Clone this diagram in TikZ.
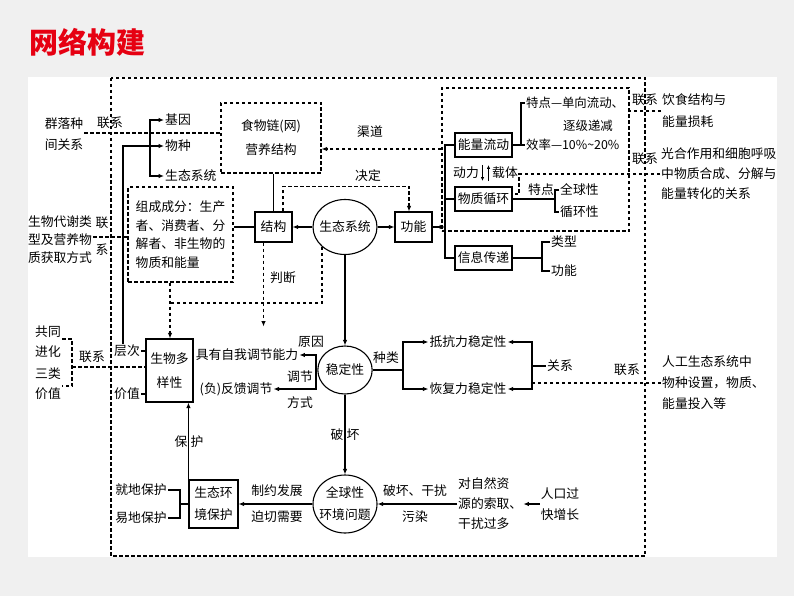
\documentclass[tikz,border=0pt]{standalone}
\usepackage{fontspec}
\setmainfont{Noto Sans CJK SC}
\usetikzlibrary{shapes.geometric,arrows.meta}
\definecolor{titlered}{RGB}{230,0,18}
\definecolor{bggray}{RGB}{240,240,240}

\begin{document}
\begin{tikzpicture}[x=1pt,y=-1pt,
  every node/.style={font=\fontsize{12.8}{19}\selectfont, inner sep=1pt, align=left},
  box/.style={draw, line width=1.1pt, inner sep=2pt, align=center},
  dbox/.style={draw, line width=1.1pt, dash pattern=on 3.5pt off 2.5pt},
  oval/.style={draw, ellipse, line width=1.1pt, inner sep=0pt, align=center},
  link/.style={line width=1.1pt},
  dlink/.style={line width=1.1pt, dash pattern=on 3.5pt off 2.5pt},
  arr/.style={-{Latex[length=5.5pt,width=4.5pt]}}]

  % Background and panel
  \fill[bggray] (0,0) rectangle (794,596);
  \fill[white] (28,77) rectangle (777,557);
  \useasboundingbox (0,0) rectangle (794,596);

  % Title
  \node[font=\fontsize{29}{29}\selectfont\bfseries, text=titlered] (title) at (87,42) {网络构建};

  % Outer frame
  \draw[dlink] (111,78) rectangle (645,556);

  % Ecosystem, structure and function
  \node[oval, inner xsep=-3pt, minimum width=64pt, minimum height=55pt] (sys) at (345,227) {生态系统};
  \node[box, minimum width=37pt, minimum height=30pt] (struct) at (273.5,227) {结构};
  \node[box, minimum width=37pt, minimum height=30pt] (func) at (413.5,227) {功能};
  \node[dbox, minimum width=100pt, minimum height=70pt, align=center, font=\fontsize{12.8}{24}\selectfont] (chain) at (271,138) {食物链(网)\\营养结构};
  \node[dbox, minimum width=105pt, minimum height=95pt, font=\fontsize{12.8}{18.7}\selectfont] (parts) at (180.5,234.5) {组成成分：生产\\者、消费者、分\\解者、非生物的\\物质和能量};
  \node (decide) at (368,176) {决定};
  \node (channel) at (370,132) {渠道};
  \node (judge) at (283,278) {判断};

  % Levels
  \node[anchor=west] (gene) at (164,120) {基因};
  \node[anchor=west] (species) at (164,146) {物种};
  \node[anchor=west] (eco) at (164,176) {生态系统};

  % Texts on the left
  \node[font=\fontsize{12.8}{21}\selectfont] (inter) at (64,134) {群落种\\间关系};
  \node (rel1) at (110,123) {联系};
  \node[font=\fontsize{12.8}{18}\selectfont] (metab) at (60,240) {生物代谢类\\型及营养物\\质获取方式};
  \node[align=center, font=\fontsize{12.8}{27}\selectfont] (rel2) at (102,236) {联\\系};

  % Energy, matter and information
  \node[dbox, minimum width=187pt, minimum height=143pt] (cycle) at (535.5,159.5) {};
  \node[box, minimum width=57pt, minimum height=24pt] (energy) at (483.5,145) {能量流动};
  \node[box, minimum width=57pt, minimum height=24pt] (matter) at (483.5,199) {物质循环};
  \node[box, minimum width=57pt, minimum height=24pt] (info) at (483.5,258) {信息传递};
  \node (power) at (466,173) {动力};
  \node (carrier) at (505,173) {载体};
  \node[anchor=west, font=\fontsize{12.4}{19}\selectfont] (feat1) at (525,103) {特点—单向流动、};
  \node[anchor=west, font=\fontsize{12.4}{19}\selectfont] (feat1b) at (562,126) {逐级递减};
  \node[anchor=west, font=\fontsize{12.4}{19}\selectfont] (eff) at (525,145) {效率—10\%\textasciitilde20\%};
  \node (feat2) at (541,190) {特点};
  \node[anchor=west] (globe) at (559,190) {全球性};
  \node[anchor=west] (circ) at (559,212) {循环性};
  \node[anchor=west] (kind) at (550,242) {类型};
  \node[anchor=west] (role) at (550,271) {功能};

  % Texts on the right
  \node[anchor=west, font=\fontsize{12.8}{22}\selectfont] (diet) at (661,111) {饮食结构与\\能量损耗};
  \node[anchor=west, font=\fontsize{12.8}{20}\selectfont] (photo) at (660,174) {光合作用和细胞呼吸\\中物质合成、分解与\\能量转化的关系};
  \node (rel5) at (645,100) {联系};
  \node (rel6) at (645,159) {联系};

  % Diversity and stability
  \node[oval, minimum width=54pt, minimum height=48pt] (stab) at (345,370) {稳定性};
  \node[box, minimum width=47pt, minimum height=63pt, font=\fontsize{12.8}{24}\selectfont] (div) at (169.5,370.5) {生物多\\样性};
  \node (level) at (127,351) {层次};
  \node (value) at (127,394) {价值};
  \node[font=\fontsize{12.8}{20}\selectfont] (coevo) at (48,342) {共同\\进化};
  \node[font=\fontsize{12.8}{20}\selectfont] (three) at (48,384) {三类\\价值};
  \node (rel3) at (92,357) {联系};
  \node (self) at (247,355) {具有自我调节能力};
  \node (fb) at (236,389) {(负)反馈调节};
  \node (cause) at (311,342) {原因};
  \node (reg) at (300,377) {调节};
  \node (mode) at (300,403) {方式};
  \node (resist) at (468,342) {抵抗力稳定性};
  \node (recov) at (468,389) {恢复力稳定性};
  \node (sort) at (386,358) {种类};
  \node (relat) at (560,366) {关系};
  \node (rel4) at (627,370) {联系};
  \node[anchor=west, font=\fontsize{12.8}{21}\selectfont] (artif) at (661,383) {人工生态系统中\\物种设置，物质、\\能量投入等};

  % Global problems and protection
  \node[oval, inner xsep=-3.5pt, minimum width=64pt, minimum height=58pt, font=\fontsize{12.8}{22}\selectfont] (world) at (345,504) {全球性\\环境问题};
  \node[box, minimum width=49pt, minimum height=48pt, font=\fontsize{12.8}{22}\selectfont] (prot) at (213.5,504) {生态环\\境保护};
  \node (insitu) at (141,490) {就地保护};
  \node (exsitu) at (141,518) {易地保护};
  \node (limit) at (277,491) {制约发展};
  \node (need) at (277,517) {迫切需要};
  \node (dmg) at (415,491) {破坏、干扰};
  \node (poll) at (415,517) {污染};
  \node[anchor=west, font=\fontsize{12.8}{20}\selectfont] (nat) at (457,504) {对自然资\\源的索取、\\干扰过多};
  \node[font=\fontsize{12.8}{21}\selectfont] (pop) at (560,504) {人口过\\快增长};
  \node (po) at (337,435) {破};
  \node (huai) at (353,435) {坏};
  \node (bao) at (181,442) {保};
  \node (hu) at (197,442) {护};

  % Forks
  \coordinate (fork) at (445,227);
  \coordinate (efork) at (521,145);
  \coordinate (mfork) at (555,199);
  \coordinate (lfork) at (150,146);
  \coordinate (sfork) at (316,370);
  \coordinate (kfork) at (403,370);
  \coordinate (rfork) at (532,366);
  \coordinate (pfork) at (180,504);

  % Ecosystem arrows
  \draw[link, arr] (sys.west) -- (struct.east);
  \draw[link, arr] (sys.east) -- (func.west);
  \draw[link] (struct.north) -- (struct.north |- chain.south);
  \draw[link] (struct.west) -- (struct.west -| parts.east);
  \draw[dlink, arr] ([xshift=9.5pt]struct.north) -- ++(0,-25) -| ([xshift=-4.5pt]func.north);
  \draw[dlink, arr] (cycle.west |- 0,149) -- (chain.east |- 0,149);

  % Function branches
  \draw[link, arr] (func.east) -- (fork);
  \draw[link] (energy.west) -- (energy.west -| fork) |- (info.west);
  \draw[link] (matter.west) -- (matter.west -| fork);
  \draw[line width=0.8pt, -{Latex[length=4pt,width=3.5pt]}] (482.5,165) -- (482.5,181);
  \draw[line width=0.8pt, -{Latex[length=4pt,width=3.5pt]}] (488.5,181) -- (488.5,165);
  \draw[link] (energy.east) -- (eff.west);
  \draw[link] (efork) |- (feat1.west);
  \draw[link] (matter.east) -- (mfork);
  \draw[link] (globe.west) -- ++(-4,0) |- (circ.west);
  \draw[link] (info.east) -- (info.east -| 542,0);
  \draw[link] (kind.west) -- ++(-8,0) |- (role.west);

  % Links on the right
  \draw[dlink] (diet.west) -- (diet.west -| cycle.east);
  \draw[dlink] (photo.west) -| (519,194) -- (matter.east |- 0,194);

  % Levels
  \draw[link, arr] ([xshift=-4pt]level.north) |- (species.west);
  \draw[link, arr] (lfork) |- (gene.west);
  \draw[link, arr] (lfork) |- (eco.west);
  \draw[dlink] (inter.east |- 0,133) -- (chain.west |- 0,133);
  \draw[dlink] (metab.east |- 0,237) -- (parts.west |- 0,237);

  % Diversity
  \draw[link] (level.east) -- (level.east -| div.west);
  \draw[link] (value.east) -- (value.east -| div.west);
  \draw[dlink] (coevo.east |- 0,339) -| (72,386) -- (three.east |- 0,386);
  \draw[dlink] (72,367) -- (div.west |- 0,367);
  \draw[dlink, arr] (parts.south -| 170,0) -- (div.north -| 170,0);
  \draw[dlink] (sys.south west) |- (170,303);
  \draw[dlink, arr] ([xshift=-10pt]struct.south) -- ++(0,84);

  % Stability
  \draw[link, arr] (sys.south) -- (stab.north);
  \draw[link] (stab.west) -- (sfork);
  \draw[link, arr] (sfork) |- (self.east);
  \draw[link, arr] (sfork) |- (fb.east);
  \draw[link] (stab.east) -- (kfork);
  \draw[link, arr] (kfork) |- (resist.west);
  \draw[link, arr] (kfork) |- (recov.west);
  \draw[link, arr] (rfork) |- (resist.east);
  \draw[link, arr] (rfork) |- (recov.east);
  \draw[link] (rfork) -- (relat.west);
  \draw[dlink] (artif.west) -- (artif.west -| rfork);

  % Global problems
  \draw[link, arr] (stab.south) -- (world.north);
  \draw[link, arr] (world.west) -- (prot.east);
  \draw[link, arr] (nat.west) -- (world.east);
  \draw[link, arr] (pop.west) -- (nat.east);
  \draw[link, arr] (prot.north west) -- (prot.north west |- div.south);
  \draw[link] (insitu.east) -- (insitu.east -| pfork) |- (exsitu.east);
  \draw[link] (pfork) -- (prot.west);
\end{tikzpicture}
\end{document}
